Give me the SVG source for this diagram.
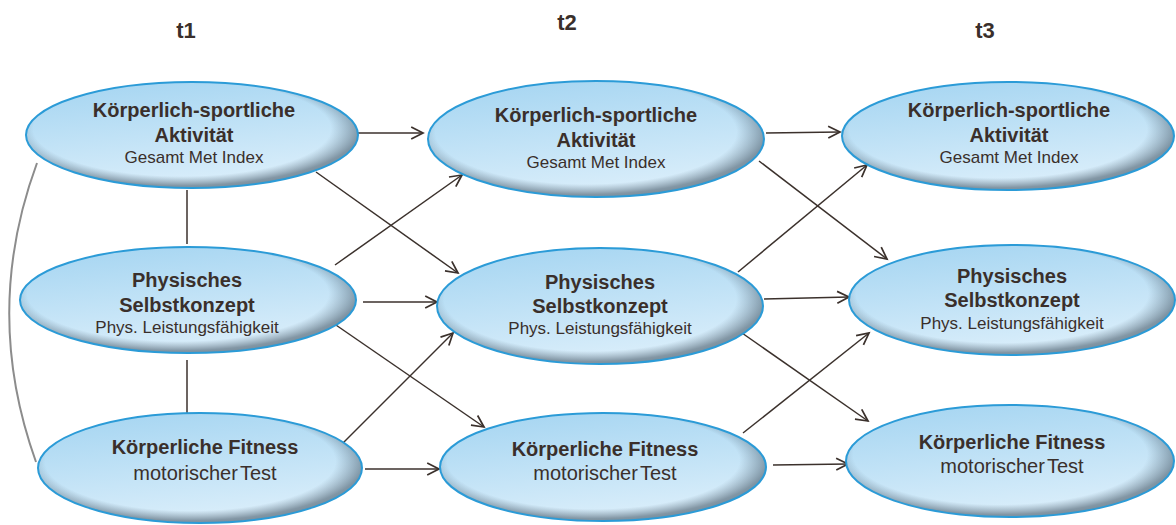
<svg xmlns="http://www.w3.org/2000/svg" width="1176" height="525" viewBox="0 0 1176 525">
<defs>
<linearGradient id="fillG" x1="0" y1="0" x2="0.3" y2="1">
<stop offset="0" stop-color="#a3d4f1"/>
<stop offset="1" stop-color="#d8edfa"/>
</linearGradient>
<radialGradient id="shadeG" cx="0.47" cy="0.44" r="0.56" fx="0.47" fy="0.44">
<stop offset="0" stop-color="#5a6f80" stop-opacity="0"/>
<stop offset="0.8" stop-color="#5a6f80" stop-opacity="0"/>
<stop offset="0.96" stop-color="#4a5d6c" stop-opacity="0.6"/>
<stop offset="1" stop-color="#4a5d6c" stop-opacity="0.65"/>
</radialGradient>
<marker id="arr" viewBox="0 0 14 14" refX="12" refY="7" markerWidth="15" markerHeight="15" markerUnits="userSpaceOnUse" orient="auto">
<path d="M1,1.5 L12,7 L1,12.5" fill="none" stroke="#3b312c" stroke-width="1.6"/>
</marker>
</defs>
<style>
.bg{fill:url(#fillG)}
.sh{fill:url(#shadeG)}
.rim{fill:none;stroke:#2b9bd7;stroke-width:2}
.t{font-family:"Liberation Sans",Arial,sans-serif;fill:#3a2f2b;text-anchor:middle}
.h{font-size:20px;font-weight:bold}
.s{font-size:17px}
.m{font-size:20px;word-spacing:-3px}
.col{font-family:"Liberation Sans",Arial,sans-serif;font-size:22px;font-weight:bold;fill:#3a2f2b;text-anchor:middle}
.c{stroke:#3b312c;stroke-width:1.5;fill:none}
.ca{stroke:#3b312c;stroke-width:1.5;fill:none;marker-end:url(#arr)}
.arc{stroke:#8c8c8c;stroke-width:2;fill:none}
</style>
<rect width="1176" height="525" fill="#ffffff"/>
<g id="headers">
<text class="col" x="186" y="38">t1</text>
<text class="col" x="567" y="30">t2</text>
<text class="col" x="985" y="38">t3</text>
</g>
<g id="connectors">
<path class="arc" d="M37,163 Q-18,312 36,462"/>
<line class="c" x1="187" y1="190" x2="187" y2="244"/>
<line class="c" x1="187" y1="360" x2="187" y2="413"/>
<line class="ca" x1="350" y1="133" x2="423" y2="133"/>
<line class="ca" x1="316" y1="172" x2="458" y2="273"/>
<line class="ca" x1="335" y1="265" x2="462" y2="175"/>
<line class="ca" x1="363" y1="302" x2="437" y2="302"/>
<line class="ca" x1="333" y1="323" x2="484" y2="427"/>
<line class="ca" x1="343" y1="443" x2="453" y2="333"/>
<line class="ca" x1="365" y1="469" x2="439" y2="469"/>
<line class="ca" x1="766" y1="133" x2="840" y2="132"/>
<line class="ca" x1="759" y1="161" x2="887" y2="259"/>
<line class="ca" x1="738" y1="272" x2="867" y2="165"/>
<line class="ca" x1="764" y1="299" x2="849" y2="297"/>
<line class="ca" x1="742" y1="333" x2="868" y2="421"/>
<line class="ca" x1="743" y1="433" x2="869" y2="333"/>
<line class="ca" x1="773" y1="465" x2="848" y2="464"/>
</g>
<g id="n1">
<ellipse class="bg" cx="192" cy="135" rx="166" ry="53"/>
<ellipse class="sh" cx="192" cy="135" rx="166" ry="53"/>
<ellipse class="rim" cx="192" cy="135" rx="166" ry="53"/>
<text class="t h" x="194" y="117">Körperlich-sportliche</text>
<text class="t h" x="194" y="142">Aktivität</text>
<text class="t s" x="194" y="163">Gesamt Met Index</text>
</g>
<g id="n2">
<ellipse class="bg" cx="188" cy="300" rx="168" ry="53"/>
<ellipse class="sh" cx="188" cy="300" rx="168" ry="53"/>
<ellipse class="rim" cx="188" cy="300" rx="168" ry="53"/>
<text class="t h" x="187" y="287">Physisches</text>
<text class="t h" x="187" y="312">Selbstkonzept</text>
<text class="t s" x="187" y="333">Phys. Leistungsfähigkeit</text>
</g>
<g id="n3">
<ellipse class="bg" cx="200" cy="468" rx="162" ry="55"/>
<ellipse class="sh" cx="200" cy="468" rx="162" ry="55"/>
<ellipse class="rim" cx="200" cy="468" rx="162" ry="55"/>
<text class="t h" x="205" y="454">Körperliche Fitness</text>
<text class="t m" x="205" y="480">motorischer Test</text>
</g>
<g id="n4">
<ellipse class="bg" cx="596" cy="139" rx="168" ry="58"/>
<ellipse class="sh" cx="596" cy="139" rx="168" ry="58"/>
<ellipse class="rim" cx="596" cy="139" rx="168" ry="58"/>
<text class="t h" x="596" y="122">Körperlich-sportliche</text>
<text class="t h" x="596" y="147">Aktivität</text>
<text class="t s" x="596" y="168">Gesamt Met Index</text>
</g>
<g id="n5">
<ellipse class="bg" cx="600" cy="306" rx="163" ry="58"/>
<ellipse class="sh" cx="600" cy="306" rx="163" ry="58"/>
<ellipse class="rim" cx="600" cy="306" rx="163" ry="58"/>
<text class="t h" x="600" y="289">Physisches</text>
<text class="t h" x="600" y="313">Selbstkonzept</text>
<text class="t s" x="600" y="334">Phys. Leistungsfähigkeit</text>
</g>
<g id="n6">
<ellipse class="bg" cx="603" cy="467" rx="163" ry="54"/>
<ellipse class="sh" cx="603" cy="467" rx="163" ry="54"/>
<ellipse class="rim" cx="603" cy="467" rx="163" ry="54"/>
<text class="t h" x="605" y="456">Körperliche Fitness</text>
<text class="t m" x="605" y="480">motorischer Test</text>
</g>
<g id="n7">
<ellipse class="bg" cx="1008" cy="136" rx="166" ry="54"/>
<ellipse class="sh" cx="1008" cy="136" rx="166" ry="54"/>
<ellipse class="rim" cx="1008" cy="136" rx="166" ry="54"/>
<text class="t h" x="1009" y="117">Körperlich-sportliche</text>
<text class="t h" x="1009" y="142">Aktivität</text>
<text class="t s" x="1009" y="163">Gesamt Met Index</text>
</g>
<g id="n8">
<ellipse class="bg" cx="1012" cy="300" rx="163" ry="55"/>
<ellipse class="sh" cx="1012" cy="300" rx="163" ry="55"/>
<ellipse class="rim" cx="1012" cy="300" rx="163" ry="55"/>
<text class="t h" x="1012" y="283">Physisches</text>
<text class="t h" x="1012" y="307">Selbstkonzept</text>
<text class="t s" x="1012" y="329">Phys. Leistungsfähigkeit</text>
</g>
<g id="n9">
<ellipse class="bg" cx="1010" cy="461" rx="164" ry="56"/>
<ellipse class="sh" cx="1010" cy="461" rx="164" ry="56"/>
<ellipse class="rim" cx="1010" cy="461" rx="164" ry="56"/>
<text class="t h" x="1012" y="449">Körperliche Fitness</text>
<text class="t m" x="1012" y="473">motorischer Test</text>
</g>
</svg>
